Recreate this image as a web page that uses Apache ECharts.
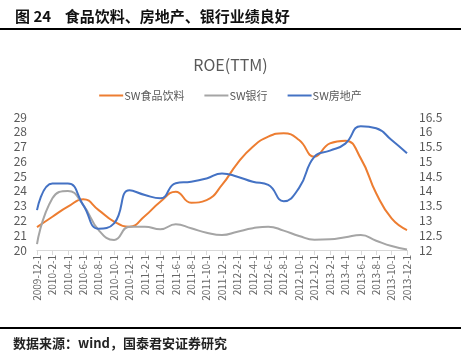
<!DOCTYPE html>
<html>
<head>
<meta charset="utf-8">
<script src="https://cdn.jsdelivr.net/npm/echarts@6/dist/echarts.min.js"></script>
<style>
  html, body { margin: 0; padding: 0; background: #fff; }
  #main { width: 461px; height: 354px; }
</style>
</head>
<body>
<div id="main"></div>
<script>
// 横轴日期
var dates = ['2009-12-1', '2010-2-1', '2010-4-1', '2010-6-1', '2010-8-1', '2010-10-1', '2010-12-1',
  '2011-2-1', '2011-4-1', '2011-6-1', '2011-8-1', '2011-10-1', '2011-12-1',
  '2012-2-1', '2012-4-1', '2012-6-1', '2012-8-1', '2012-10-1', '2012-12-1',
  '2013-2-1', '2013-4-1', '2013-6-1', '2013-8-1', '2013-10-1', '2013-12-1'];

// 左轴：食品饮料、银行
var food = [21.55, 22.25, 22.93, 23.43, 22.7, 21.92, 21.58, 22.3, 23.27, 23.95, 23.2, 23.38, 24.4,
  25.87, 26.99, 27.67, 27.9, 27.44, 26.31, 27.22, 27.4, 26.2, 23.84, 22.14, 21.35];
var bank = [20.4, 23.5, 24.0, 23.04, 21.35, 20.68, 21.58, 21.58, 21.4, 21.74, 21.47, 21.17, 21.01,
  21.24, 21.47, 21.58, 21.31, 20.95, 20.7, 20.72, 20.86, 21.01, 20.63, 20.27, 20.03];
// 右轴：房地产
var estate = [13.35, 14.25, 14.25, 13.52, 12.72, 12.9, 14.02, 13.86, 13.75, 14.26, 14.31, 14.42, 14.59,
  14.48, 14.31, 14.2, 13.65, 14.1, 15.16, 15.36, 15.6, 16.19, 16.12, 15.72, 15.27];

var txt = '#595959';
var chart = echarts.init(document.getElementById('main'));

chart.setOption({
  animation: false,
  title: [{
    text: '图 24    食品饮料、房地产、银行业绩良好',
    left: 10, top: 4,
    textStyle: { fontFamily: 'Noto Sans CJK SC', fontSize: 15, fontWeight: 'bold', color: '#111' }
  }, {
    text: 'ROE(TTM)',
    left: 'center', top: 52,
    textStyle: { fontFamily: 'Noto Sans CJK SC', fontSize: 16, fontWeight: 'normal', color: txt }
  }, {
    text: '数据来源：wind，国泰君安证券研究',
    left: 8, top: 332,
    textStyle: { fontFamily: 'Noto Sans CJK SC', fontSize: 13, fontWeight: 'bold', color: '#222' }
  }],
  graphic: [
    { type: 'rect', shape: { x: 0, y: 28, width: 461, height: 2 }, style: { fill: '#000' } },
    { type: 'rect', shape: { x: 0, y: 327, width: 461, height: 2 }, style: { fill: '#000' } }
  ],
  legend: {
    top: 85, left: 'center', itemGap: 20, itemWidth: 24, itemHeight: 2,
    icon: 'rect',
    textStyle: { fontFamily: 'Noto Sans CJK SC', fontSize: 11, color: txt, padding: [0, 0, 0, -4] },
    data: ['SW食品饮料', 'SW银行', 'SW房地产']
  },
  grid: { left: 37, right: 54, top: 117, bottom: 104 },
  xAxis: {
    type: 'category', data: dates, boundaryGap: false,
    axisLine: { lineStyle: { color: '#d9d9d9' } },
    axisTick: { alignWithLabel: true, lineStyle: { color: '#d9d9d9' } },
    axisLabel: { rotate: 90, interval: 0, fontSize: 10, color: '#666', fontFamily: 'Noto Sans CJK SC', margin: 5 }
  },
  yAxis: [{
    type: 'value', min: 20, max: 29, interval: 1,
    splitLine: { show: false }, axisLine: { show: false }, axisTick: { show: false },
    axisLabel: { fontSize: 12, color: txt, fontFamily: 'Noto Sans CJK SC', margin: 10 }
  }, {
    type: 'value', min: 12, max: 16.5, interval: 0.5,
    splitLine: { show: false }, axisLine: { show: false }, axisTick: { show: false },
    axisLabel: { fontSize: 12, color: txt, fontFamily: 'Noto Sans CJK SC', margin: 12 }
  }],
  series: [{
    name: 'SW食品饮料', type: 'line', data: food, yAxisIndex: 0,
    smooth: 0.5, showSymbol: false, lineStyle: { width: 2, color: '#ED7D31' }, itemStyle: { color: '#ED7D31' }
  }, {
    name: 'SW银行', type: 'line', data: bank, yAxisIndex: 0,
    smooth: 0.5, showSymbol: false, lineStyle: { width: 2, color: '#A5A5A5' }, itemStyle: { color: '#A5A5A5' }
  }, {
    name: 'SW房地产', type: 'line', data: estate, yAxisIndex: 1,
    smooth: 0.5, showSymbol: false, lineStyle: { width: 2, color: '#4472C4' }, itemStyle: { color: '#4472C4' }
  }]
});
</script>
</body>
</html>
